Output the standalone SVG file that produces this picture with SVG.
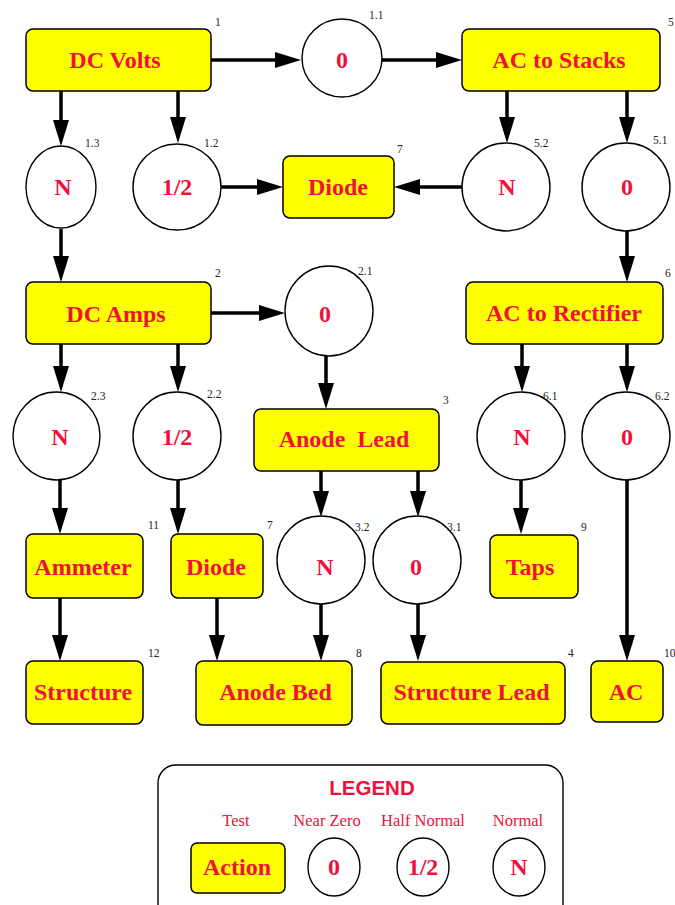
<svg xmlns="http://www.w3.org/2000/svg" width="675" height="905" viewBox="0 0 675 905">
<style>
.box{fill:#ffff00;stroke:#000;stroke-width:1.5}
.cir{fill:#fff;stroke:#000;stroke-width:1.4}
.t{font-family:"Liberation Serif",serif;font-weight:bold;font-size:24px;fill:#f0103c;text-anchor:middle}
.n{font-family:"Liberation Serif",serif;font-size:11.5px;fill:#222}
.c{stroke:#000;stroke-width:3.5;fill:none;marker-end:url(#ah)}
.lt{font-family:"Liberation Serif",serif;font-size:16.5px;fill:#f0103c;text-anchor:middle}
</style>
<defs>
<marker id="ah" markerUnits="userSpaceOnUse" markerWidth="26" markerHeight="16" viewBox="0 0 26 16" refX="16" refY="8" orient="auto">
<path d="M0,0 L26,8 L0,16 z" fill="#000"/>
</marker>
</defs>
<rect width="675" height="905" fill="#fff"/>
<g id="connectors">
<line class="c" x1="211" y1="60" x2="291" y2="60"/>
<line class="c" x1="381" y1="60" x2="452" y2="60"/>
<line class="c" x1="61" y1="91" x2="61" y2="136"/>
<line class="c" x1="178" y1="91" x2="178" y2="133"/>
<line class="c" x1="221" y1="187" x2="273" y2="187"/>
<line class="c" x1="462" y1="187" x2="404" y2="187"/>
<line class="c" x1="507" y1="91" x2="507" y2="133"/>
<line class="c" x1="627" y1="91" x2="627" y2="133"/>
<line class="c" x1="61" y1="229" x2="61" y2="272"/>
<line class="c" x1="627" y1="231" x2="627" y2="272"/>
<line class="c" x1="211" y1="313" x2="275" y2="313"/>
<line class="c" x1="326" y1="356" x2="326" y2="399"/>
<line class="c" x1="61" y1="344" x2="61" y2="382"/>
<line class="c" x1="178" y1="344" x2="178" y2="382"/>
<line class="c" x1="522" y1="344" x2="522" y2="382"/>
<line class="c" x1="627" y1="344" x2="627" y2="382"/>
<line class="c" x1="321" y1="471" x2="321" y2="507"/>
<line class="c" x1="418" y1="471" x2="418" y2="507"/>
<line class="c" x1="60" y1="480" x2="60" y2="524"/>
<line class="c" x1="178" y1="480" x2="178" y2="524"/>
<line class="c" x1="521" y1="480" x2="521" y2="524"/>
<line class="c" x1="627" y1="480" x2="627" y2="651"/>
<line class="c" x1="60" y1="598" x2="60" y2="651"/>
<line class="c" x1="217" y1="598" x2="217" y2="651"/>
<line class="c" x1="321" y1="604" x2="321" y2="651"/>
<line class="c" x1="418" y1="604" x2="418" y2="651"/>
</g>
<g id="n1"><rect class="box" x="26" y="29" width="185" height="62" rx="7"/><text class="t" x="115" y="68">DC Volts</text><text class="n" x="215" y="26">1</text></g>
<g id="n1_1"><ellipse class="cir" cx="342" cy="58" rx="40" ry="39"/><text class="t" x="342" y="68">0</text><text class="n" x="369" y="19">1.1</text></g>
<g id="n5"><rect class="box" x="462" y="29" width="198" height="62" rx="7"/><text class="t" x="559" y="68">AC to Stacks</text><text class="n" x="668" y="26">5</text></g>
<g id="n1_3"><ellipse class="cir" cx="61" cy="187" rx="35" ry="41"/><text class="t" x="63" y="195">N</text><text class="n" x="85" y="147">1.3</text></g>
<g id="n1_2"><ellipse class="cir" cx="177" cy="187" rx="44" ry="43"/><text class="t" x="177" y="195">1/2</text><text class="n" x="204" y="147">1.2</text></g>
<g id="n7a"><rect class="box" x="283" y="156" width="111" height="62" rx="7"/><text class="t" x="338" y="195">Diode</text><text class="n" x="397" y="153">7</text></g>
<g id="n5_2"><ellipse class="cir" cx="506" cy="187" rx="44" ry="44"/><text class="t" x="507" y="195">N</text><text class="n" x="534" y="147">5.2</text></g>
<g id="n5_1"><ellipse class="cir" cx="626" cy="187" rx="44" ry="44"/><text class="t" x="627" y="195">0</text><text class="n" x="653" y="144">5.1</text></g>
<g id="n2"><rect class="box" x="26" y="282" width="185" height="62" rx="7"/><text class="t" x="116" y="322">DC Amps</text><text class="n" x="215" y="277">2</text></g>
<g id="n2_1"><ellipse class="cir" cx="329" cy="311" rx="44" ry="45"/><text class="t" x="325" y="322">0</text><text class="n" x="358" y="275">2.1</text></g>
<g id="n6"><rect class="box" x="466" y="282" width="197" height="62" rx="7"/><text class="t" x="564" y="321">AC to Rectifier</text><text class="n" x="665" y="277">6</text></g>
<g id="n2_3"><ellipse class="cir" cx="56.5" cy="436" rx="43.5" ry="44"/><text class="t" x="60" y="445">N</text><text class="n" x="91" y="400">2.3</text></g>
<g id="n2_2"><ellipse class="cir" cx="177" cy="436" rx="44" ry="44"/><text class="t" x="177" y="445">1/2</text><text class="n" x="207" y="398">2.2</text></g>
<g id="n3"><rect class="box" x="254" y="409" width="185" height="62" rx="7"/><text class="t" x="344" y="447" xml:space="preserve">Anode  Lead</text><text class="n" x="443" y="404">3</text></g>
<g id="n6_1"><ellipse class="cir" cx="521" cy="436" rx="44" ry="44"/><text class="t" x="522" y="445">N</text><text class="n" x="543" y="400">6.1</text></g>
<g id="n6_2"><ellipse class="cir" cx="626" cy="436" rx="44" ry="44"/><text class="t" x="627" y="445">0</text><text class="n" x="655" y="400">6.2</text></g>
<g id="n11"><rect class="box" x="26" y="534" width="117" height="64" rx="7"/><text class="t" x="83" y="575">Ammeter</text><text class="n" x="148" y="529">11</text></g>
<g id="n7b"><rect class="box" x="171" y="534" width="92" height="64" rx="7"/><text class="t" x="216" y="575">Diode</text><text class="n" x="267" y="529">7</text></g>
<g id="n3_2"><ellipse class="cir" cx="321" cy="560" rx="44" ry="44"/><text class="t" x="325" y="575">N</text><text class="n" x="355" y="531">3.2</text></g>
<g id="n3_1"><ellipse class="cir" cx="417" cy="560" rx="44" ry="44"/><text class="t" x="416" y="575">0</text><text class="n" x="447" y="531">3.1</text></g>
<g id="n9"><rect class="box" x="490" y="535" width="88" height="63" rx="7"/><text class="t" x="530" y="575">Taps</text><text class="n" x="581" y="531">9</text></g>
<g id="n12"><rect class="box" x="26" y="661" width="117" height="63" rx="7"/><text class="t" x="83" y="700">Structure</text><text class="n" x="148" y="657">12</text></g>
<g id="n8"><rect class="box" x="196" y="661" width="156" height="64" rx="7"/><text class="t" x="275.5" y="700">Anode Bed</text><text class="n" x="356" y="657">8</text></g>
<g id="n4"><rect class="box" x="381" y="662" width="184" height="62" rx="7"/><text class="t" x="471.5" y="700">Structure Lead</text><text class="n" x="568" y="657">4</text></g>
<g id="n10"><rect class="box" x="591" y="661" width="72" height="61" rx="7"/><text class="t" x="626" y="700">AC</text><text class="n" x="664" y="657">10</text></g>
<g id="legend">
<rect x="158" y="765" width="405" height="160" rx="18" fill="#fff" stroke="#000" stroke-width="1.4"/>
<text x="372" y="795" font-family="Liberation Sans,sans-serif" font-weight="bold" font-size="20.5" fill="#f0103c" text-anchor="middle">LEGEND</text>
<text class="lt" x="236" y="826">Test</text>
<text class="lt" x="327" y="826">Near Zero</text>
<text class="lt" x="423" y="826">Half Normal</text>
<text class="lt" x="518" y="826">Normal</text>
<rect class="box" x="191" y="843" width="94" height="50" rx="6"/>
<text class="t" x="237" y="875">Action</text>
<ellipse class="cir" cx="334" cy="867" rx="26" ry="29"/>
<text class="t" x="334" y="875">0</text>
<ellipse class="cir" cx="423" cy="867" rx="26" ry="29"/>
<text class="t" x="423" y="875">1/2</text>
<ellipse class="cir" cx="519" cy="867" rx="26" ry="29"/>
<text class="t" x="519" y="875">N</text>
</g>
</svg>
